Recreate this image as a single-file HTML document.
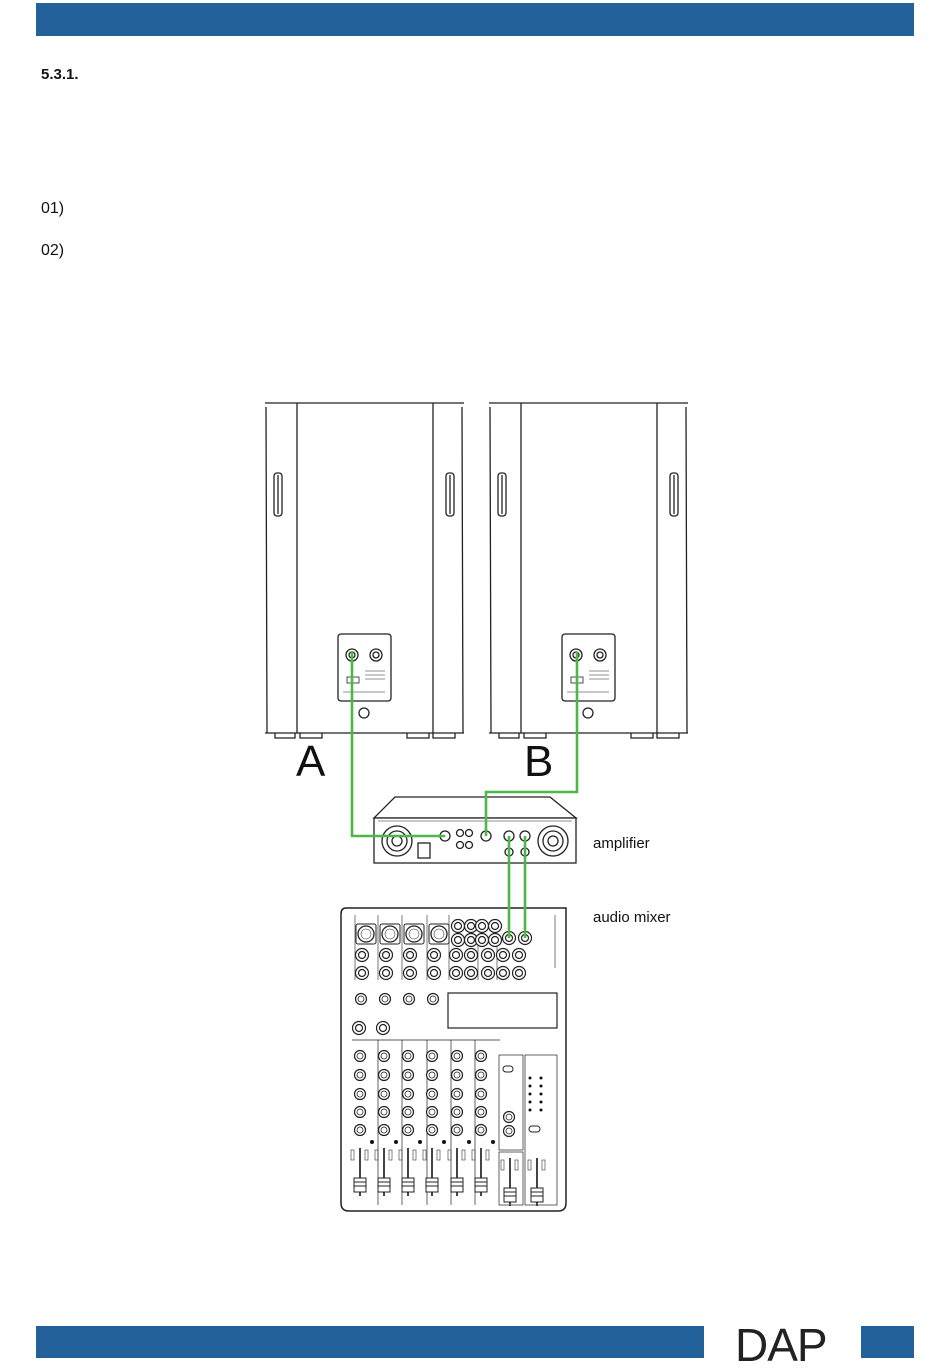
<!DOCTYPE html>
<html><head><meta charset="utf-8"><style>
html,body{margin:0;padding:0;background:#fff}
body{width:950px;height:1369px;position:relative;overflow:hidden;font-family:"Liberation Sans",sans-serif}
.t{position:absolute;color:#111}
</style></head><body>
<svg width="950" height="1369" style="position:absolute;left:0;top:0" xmlns="http://www.w3.org/2000/svg">
<defs>
<g id="knob"><circle r="5.5" fill="#fff" stroke="#222" stroke-width="1.2"/><circle r="3" fill="none" stroke="#222" stroke-width="0.8"/></g>
<g id="jack"><circle r="6.5" fill="#fff" stroke="#222" stroke-width="1.2"/><circle r="3.5" fill="none" stroke="#222" stroke-width="1.2"/></g>
<g id="xlr"><rect x="-10" y="-10" width="20" height="20" rx="2" fill="#fff" stroke="#222"/><circle r="8" fill="#fff" stroke="#222" stroke-width="1.3"/><circle r="5" fill="none" stroke="#444" stroke-width="0.6"/></g>
<g id="fader"><rect x="-1" y="0" width="2" height="48" fill="#444"/><rect x="-6" y="30" width="12" height="14" fill="#fff" stroke="#222"/><line x1="-6" y1="34" x2="6" y2="34" stroke="#222"/><line x1="-6" y1="38" x2="6" y2="38" stroke="#222"/><rect x="5" y="2" width="3" height="10" fill="none" stroke="#333" stroke-width="0.6"/><rect x="-9" y="2" width="3" height="10" fill="none" stroke="#333" stroke-width="0.6"/></g>
<g id="spk" fill="none" stroke="#222" stroke-width="1.3">
<path d="M0,0 H199 M1,4 L2,330 M197,4 L198,330 M0,330 H199"/>
<line x1="32" y1="0" x2="32" y2="330"/><line x1="168" y1="0" x2="168" y2="330"/>
<rect x="9" y="70" width="8" height="43" rx="3"/><line x1="13" y1="72" x2="13" y2="111"/>
<rect x="181" y="70" width="8" height="43" rx="3"/><line x1="185" y1="72" x2="185" y2="111"/>
<path d="M10,330 v5 h20 v-5 M35,330 v5 h22 v-5 M142,330 v5 h22 v-5 M168,330 v5 h22 v-5"/>
<rect x="73" y="231" width="53" height="67" rx="3"/>
<circle cx="87" cy="252" r="6"/><circle cx="87" cy="252" r="3"/>
<circle cx="111" cy="252" r="6"/><circle cx="111" cy="252" r="3"/>
<rect x="82" y="274" width="12" height="6" stroke-width="0.8"/>
<line x1="100" y1="268" x2="120" y2="268" stroke-width="0.5"/><line x1="100" y1="272" x2="120" y2="272" stroke-width="0.5"/><line x1="100" y1="276" x2="120" y2="276" stroke-width="0.5"/>
<line x1="78" y1="289" x2="120" y2="289" stroke-width="0.5"/>
<circle cx="99" cy="310" r="5"/>
</g>
</defs>
<rect x="36" y="3" width="878" height="33" fill="#23619a"/>
<rect x="36" y="1326" width="668" height="32" fill="#23619a"/>
<rect x="861" y="1326" width="53" height="32" fill="#23619a"/>
<use href="#spk" x="265" y="403"/>
<use href="#spk" x="489" y="403"/>
<!-- amplifier -->
<g fill="none" stroke="#222" stroke-width="1.3">
<path d="M395,797 H550 L576,818 H374 Z"/>
<rect x="374" y="818" width="202" height="45" fill="#fff"/>
<line x1="378" y1="821" x2="572" y2="821" stroke-width="0.6"/>
<circle cx="397" cy="841" r="15"/><circle cx="397" cy="841" r="10"/><circle cx="397" cy="841" r="5"/>
<circle cx="553" cy="841" r="15"/><circle cx="553" cy="841" r="10"/><circle cx="553" cy="841" r="5"/>
<rect x="418" y="843" width="12" height="15"/>
<circle cx="445" cy="836" r="5"/><circle cx="486" cy="836" r="5"/>
<circle cx="460" cy="833" r="3.5"/><circle cx="469" cy="833" r="3.5"/><circle cx="460" cy="845" r="3.5"/><circle cx="469" cy="845" r="3.5"/>
<circle cx="509" cy="836" r="5"/><circle cx="525" cy="836" r="5"/>
<circle cx="509" cy="852" r="4"/><circle cx="525" cy="852" r="4"/>
</g>
<!-- mixer -->
<g fill="none" stroke="#222" stroke-width="1.2">
<path d="M346,908 H566 V1203 Q566,1211 558,1211 H349 Q341,1211 341,1203 V914 Q341,908 346,908 Z" stroke-width="1.5"/>
<rect x="448" y="993" width="109" height="35"/>
<line x1="352" y1="1040" x2="500" y2="1040" stroke-width="0.7"/>
<line x1="378" y1="1040" x2="378" y2="1205" stroke-width="0.7"/>
<line x1="402" y1="1040" x2="402" y2="1205" stroke-width="0.7"/>
<line x1="427" y1="1040" x2="427" y2="1205" stroke-width="0.7"/>
<line x1="451" y1="1040" x2="451" y2="1205" stroke-width="0.7"/>
<line x1="475" y1="1040" x2="475" y2="1205" stroke-width="0.7"/>
<rect x="499" y="1055" width="24" height="95" stroke-width="0.7"/>
<rect x="525" y="1055" width="32" height="150" stroke-width="0.7"/>
<rect x="499" y="1152" width="24" height="53" stroke-width="0.7"/>
<line x1="355" y1="915" x2="355" y2="980" stroke-width="0.6"/>
<line x1="378" y1="915" x2="378" y2="980" stroke-width="0.6"/><line x1="402" y1="915" x2="402" y2="980" stroke-width="0.6"/><line x1="427" y1="915" x2="427" y2="980" stroke-width="0.6"/><line x1="449" y1="915" x2="449" y2="980" stroke-width="0.6"/><line x1="478" y1="935" x2="478" y2="980" stroke-width="0.6"/><line x1="497" y1="935" x2="497" y2="980" stroke-width="0.6"/>
<line x1="555" y1="915" x2="555" y2="968" stroke-width="0.6"/>
</g>
<g>
<use href="#xlr" x="366" y="934"/><use href="#xlr" x="390" y="934"/><use href="#xlr" x="414" y="934"/><use href="#xlr" x="439" y="934"/>
<use href="#jack" x="458" y="926"/><use href="#jack" x="471" y="926"/><use href="#jack" x="482" y="926"/><use href="#jack" x="495" y="926"/>
<use href="#jack" x="458" y="940"/><use href="#jack" x="471" y="940"/><use href="#jack" x="482" y="940"/><use href="#jack" x="495" y="940"/>
<use href="#jack" x="509" y="938"/><use href="#jack" x="525" y="938"/>
<use href="#jack" x="362" y="955"/><use href="#jack" x="386" y="955"/><use href="#jack" x="410" y="955"/><use href="#jack" x="434" y="955"/><use href="#jack" x="456" y="955"/><use href="#jack" x="471" y="955"/><use href="#jack" x="488" y="955"/><use href="#jack" x="503" y="955"/><use href="#jack" x="519" y="955"/>
<use href="#jack" x="362" y="973"/><use href="#jack" x="386" y="973"/><use href="#jack" x="410" y="973"/><use href="#jack" x="434" y="973"/><use href="#jack" x="456" y="973"/><use href="#jack" x="471" y="973"/><use href="#jack" x="488" y="973"/><use href="#jack" x="503" y="973"/><use href="#jack" x="519" y="973"/>
<use href="#knob" x="361" y="999"/><use href="#knob" x="385" y="999"/><use href="#knob" x="409" y="999"/><use href="#knob" x="433" y="999"/>
<use href="#jack" x="359" y="1028"/><use href="#jack" x="383" y="1028"/>
</g>
<g id="col">
<use href="#knob" x="360" y="1056"/><use href="#knob" x="360" y="1075"/><use href="#knob" x="360" y="1094"/><use href="#knob" x="360" y="1112"/><use href="#knob" x="360" y="1130"/>
<use href="#fader" x="360" y="1148"/>
<circle cx="372" cy="1142" r="2" fill="#111"/>
</g>
<use href="#col" x="24"/><use href="#col" x="48"/><use href="#col" x="72"/><use href="#col" x="97"/><use href="#col" x="121"/>
<use href="#knob" x="509" y="1117"/><use href="#knob" x="509" y="1131"/>
<rect x="503" y="1066" width="10" height="6" rx="3" fill="none" stroke="#222"/>
<rect x="529" y="1126" width="11" height="6" rx="3" fill="none" stroke="#222"/>
<use href="#fader" x="510" y="1158"/><use href="#fader" x="537" y="1158"/>
<g fill="#111"><circle cx="530" cy="1078" r="1.5"/><circle cx="530" cy="1086" r="1.5"/><circle cx="530" cy="1094" r="1.5"/><circle cx="530" cy="1102" r="1.5"/><circle cx="530" cy="1110" r="1.5"/><circle cx="541" cy="1078" r="1.5"/><circle cx="541" cy="1086" r="1.5"/><circle cx="541" cy="1094" r="1.5"/><circle cx="541" cy="1102" r="1.5"/><circle cx="541" cy="1110" r="1.5"/></g>
<!-- cables -->
<g fill="none" stroke="#4cb848" stroke-width="2.6">
<polyline points="352,652 352,836 445,836"/>
<polyline points="577,652 577,792 486,792 486,836"/>
<line x1="509" y1="836" x2="509" y2="938"/>
<line x1="525" y1="836" x2="525" y2="938"/>
</g>
</svg>
<div class="t" style="left:41px;top:66px;font-size:15px;font-weight:bold">5.3.1.</div>
<div class="t" style="left:41px;top:200px;font-size:16px">01)</div>
<div class="t" style="left:41px;top:242px;font-size:16px">02)</div>
<div class="t" style="left:296px;top:740px;font-size:44px;line-height:44px">A</div>
<div class="t" style="left:524px;top:740px;font-size:44px;line-height:44px">B</div>
<div class="t" style="left:593px;top:835px;font-size:15px">amplifier</div>
<div class="t" style="left:593px;top:909px;font-size:15px">audio mixer</div>
<div class="t" style="left:735px;top:1318px;font-size:46px;font-weight:normal;color:#222;letter-spacing:-1px">DAP</div>
</body></html>
